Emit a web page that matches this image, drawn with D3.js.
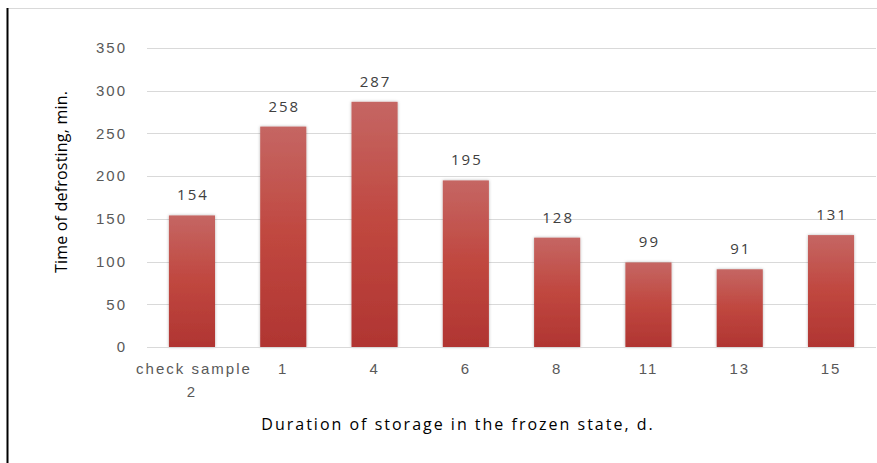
<!DOCTYPE html>
<html>
<head>
<meta charset="utf-8">
<script src="https://cdn.jsdelivr.net/npm/d3@7"></script>
<style>
  body { margin: 0; background: #fff; }
  svg { display: block; }
</style>
</head>
<body>
<svg id="chart"></svg>
<script>
const categories = ['check sample 2', '1', '4', '6', '8', '11', '13', '15'];
const values = [154, 258, 287, 195, 128, 99, 91, 131];
const yTicks = [0, 50, 100, 150, 200, 250, 300, 350];

const width = 877, height = 463;
const margin = { top: 48, right: 1, bottom: 116, left: 147 };

const svg = d3.select('#chart')
  .attr('width', width)
  .attr('height', height)
  .style('font-family', '"Open Sans", sans-serif');

// frame around the picture
svg.append('line')
  .attr('x1', 7).attr('x2', width).attr('y1', 8.5).attr('y2', 8.5)
  .attr('stroke', '#d9d9d9').attr('stroke-width', 1);
svg.append('line')
  .attr('x1', 7.5).attr('x2', 7.5).attr('y1', 8).attr('y2', height)
  .attr('stroke', '#000').attr('stroke-width', 2);

const x = d3.scaleBand()
  .domain(categories)
  .range([margin.left, width - margin.right])
  .paddingInner(0.495)
  .paddingOuter(0.24);

const y = d3.scaleLinear()
  .domain([0, 350])
  .range([height - margin.bottom, margin.top]);

const defs = svg.append('defs');
const grad = defs.append('linearGradient')
  .attr('id', 'barGrad')
  .attr('x1', 0).attr('x2', 0).attr('y1', 0).attr('y2', 1);
grad.append('stop').attr('offset', '0%').attr('stop-color', '#c56663');
grad.append('stop').attr('offset', '50%').attr('stop-color', '#c0473f');
grad.append('stop').attr('offset', '100%').attr('stop-color', '#b03532');

const shadow = defs.append('filter').attr('id', 'shadow')
  .attr('x', '-20%').attr('y', '-10%').attr('width', '140%').attr('height', '120%');
shadow.append('feDropShadow')
  .attr('dx', 0).attr('dy', 0).attr('stdDeviation', 1.5)
  .attr('flood-color', '#000').attr('flood-opacity', 0.3);

// gridlines
svg.append('g')
  .selectAll('line')
  .data(yTicks.filter(d => d > 0))
  .enter()
  .append('line')
  .attr('x1', margin.left).attr('x2', width - margin.right)
  .attr('y1', d => Math.round(y(d)) + 0.5).attr('y2', d => Math.round(y(d)) + 0.5)
  .attr('stroke', '#d9d9d9');

// y axis
const yAxis = svg.append('g')
  .attr('transform', `translate(${margin.left},0)`)
  .call(d3.axisLeft(y).tickValues(yTicks).tickSize(0).tickPadding(20));
yAxis.select('.domain').remove();
yAxis.selectAll('text')
  .attr('fill', '#595959')
  .style('font-size', '15px')
  .style('letter-spacing', '2px');

// bars
svg.append('g')
  .selectAll('rect')
  .data(values)
  .enter()
  .append('rect')
  .attr('x', (d, i) => x(categories[i]))
  .attr('y', d => y(d))
  .attr('width', x.bandwidth())
  .attr('height', d => y(0) - y(d))
  .attr('fill', 'url(#barGrad)')
  .attr('filter', 'url(#shadow)');

// baseline
svg.append('line')
  .attr('x1', margin.left).attr('x2', width - margin.right)
  .attr('y1', Math.round(y(0)) + 0.5).attr('y2', Math.round(y(0)) + 0.5)
  .attr('stroke', '#d9d9d9');

// data labels
svg.append('g')
  .selectAll('text')
  .data(values)
  .enter()
  .append('text')
  .attr('x', (d, i) => x(categories[i]) + x.bandwidth() / 2 + 1)
  .attr('y', d => y(d) - 15)
  .attr('text-anchor', 'middle')
  .attr('fill', '#404040')
  .style('font-size', '15px')
  .style('letter-spacing', '2px')
  .text(d => d);

// x axis labels
const xAxis = svg.append('g')
  .attr('transform', `translate(0,${y(0)})`)
  .call(d3.axisBottom(x).tickSize(0).tickPadding(16));
xAxis.select('.domain').remove();
xAxis.selectAll('text')
  .attr('fill', '#595959')
  .style('font-size', '15px')
  .style('letter-spacing', '2px')
  .each(function (d) {
    if (d === 'check sample 2') {
      const t = d3.select(this);
      t.text(null);
      t.append('tspan').attr('x', 2).text('check sample');
      t.append('tspan').attr('x', 0).attr('dy', '1.55em').text('2');
    }
  });

// axis titles
svg.append('text')
  .attr('transform', `translate(67,182) rotate(-90)`)
  .attr('text-anchor', 'middle')
  .attr('fill', '#000')
  .style('font-size', '16px')
  .style('letter-spacing', '0.2px')
  .text('Time of defrosting, min.');

svg.append('text')
  .attr('x', 458)
  .attr('y', 430)
  .attr('text-anchor', 'middle')
  .attr('fill', '#000')
  .style('font-size', '16px')
  .style('letter-spacing', '2px')
  .text('Duration of storage in the frozen state, d.');
</script>
</body>
</html>
